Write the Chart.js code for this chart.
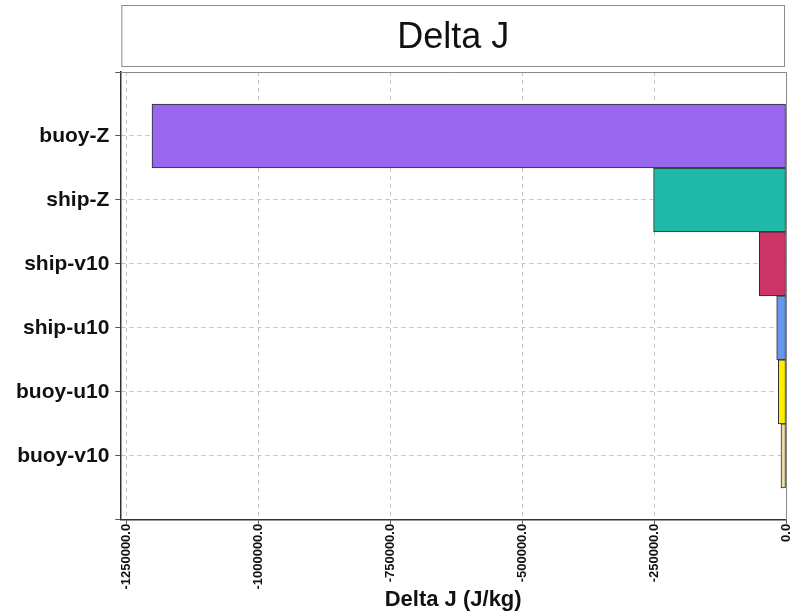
<!DOCTYPE html>
<html>
<head>
<meta charset="utf-8">
<title>Delta J</title>
<script src="https://cdn.jsdelivr.net/npm/chart.js@4/dist/chart.umd.min.js"></script>
<style>
  html, body { margin: 0; padding: 0; background: #ffffff; }
  #wrap { width: 792px; height: 615px; position: relative; }
</style>
</head>
<body>
<div id="wrap"><canvas id="chart"></canvas></div>
<script>
// Observation types (empty slots pad the band above and below the bars)
const categories = ['', 'buoy-Z', 'ship-Z', 'ship-v10', 'ship-u10', 'buoy-u10', 'buoy-v10', ''];
// Change in cost function per observation type, J/kg
const deltaJ = [null, -1202000, -251000, -50600, -17600, -14600, -9500, null];
const barColors = ['#ffffff', '#9966ee', '#20b8a6', '#cc3366', '#6699ee', '#ffee00', '#eeddaa', '#ffffff'];
const xTickValues = [-1250000, -1000000, -750000, -500000, -250000, 0];
const chartTitle = 'Delta J';
const xAxisTitle = 'Delta J (J/kg)';

const FONT = "'Liberation Sans', Arial, Helvetica, sans-serif";

// Framed title above the plot plus the top/right frame of the plot area
const framePlugin = {
  id: 'frame',
  afterDraw(chart) {
    const { ctx, chartArea: a } = chart;
    ctx.save();
    ctx.strokeStyle = '#8a8a8a';
    ctx.lineWidth = 1;
    ctx.beginPath();
    ctx.moveTo(a.left, a.top + 0.5);
    ctx.lineTo(a.right + 0.5, a.top + 0.5);
    ctx.lineTo(a.right + 0.5, a.bottom);
    ctx.stroke();
    // title box
    ctx.strokeRect(a.left + 1.5, 5.5, a.right - a.left - 3, 61);
    ctx.fillStyle = '#111';
    ctx.font = '36px ' + FONT;
    ctx.textAlign = 'center';
    ctx.textBaseline = 'middle';
    ctx.fillText(chartTitle, (a.left + a.right) / 2, 38);
    ctx.restore();
  }
};

new Chart(document.getElementById('chart'), {
  type: 'bar',
  data: {
    labels: categories,
    datasets: [{
      data: deltaJ,
      backgroundColor: barColors,
      borderColor: '#2a2a2a',
      borderWidth: 1,
      borderSkipped: false,
      barPercentage: 1,
      categoryPercentage: 1
    }]
  },
  options: {
    indexAxis: 'y',
    responsive: true,
    maintainAspectRatio: false,
    animation: false,
    layout: { padding: { top: 72, left: 10, right: 6, bottom: 2 } },
    plugins: {
      legend: { display: false },
      tooltip: { enabled: false },
      title: { display: false }
    },
    scales: {
      y: {
        type: 'category',
        offset: false,
        grid: {
          offset: false,
          color: '#c4c4c4',
          tickColor: '#555',
          tickLength: 5,
          tickBorderDash: []
        },
        border: { display: true, color: '#333', width: 1.5, dash: [4, 4] },
        ticks: {
          color: '#111',
          padding: 6,
          font: { family: FONT, size: 21, weight: 'bold' }
        }
      },
      x: {
        type: 'linear',
        min: -1262000,
        max: 0,
        afterBuildTicks(scale) {
          scale.ticks = xTickValues.map(v => ({ value: v }));
        },
        afterFit(scale) {
          // let the last rotated label sit at the very edge
          scale.paddingRight = 0;
        },
        grid: {
          color: '#c4c4c4',
          tickColor: '#555',
          tickLength: 4,
          tickBorderDash: []
        },
        border: { display: true, color: '#333', width: 1.5, dash: [4, 4] },
        ticks: {
          color: '#111',
          padding: 0,
          minRotation: 90,
          maxRotation: 90,
          font: { family: FONT, size: 13, weight: 'bold' },
          callback: v => Number(v).toFixed(1)
        },
        title: {
          display: true,
          text: xAxisTitle,
          color: '#111',
          padding: { top: -3, bottom: 0 },
          font: { family: FONT, size: 22, weight: 'bold' }
        }
      }
    }
  },
  plugins: [framePlugin]
});
</script>
</body>
</html>
